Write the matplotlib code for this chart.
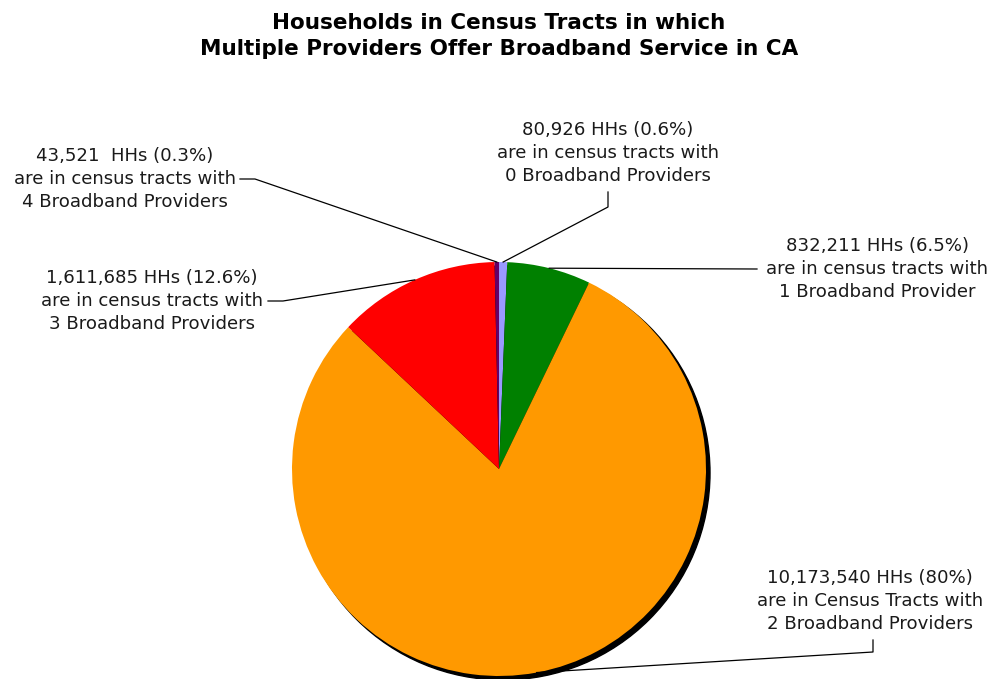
import numpy as np
import matplotlib
matplotlib.use("Agg")
import matplotlib.pyplot as plt
from matplotlib.patches import Circle

# ---- data ----
categories = ["0 Broadband Providers", "1 Broadband Provider", "2 Broadband Providers",
              "3 Broadband Providers", "4 Broadband Providers"]
households = [80926, 832211, 10173540, 1611685, 43521]
label_texts = [
    "80,926 HHs (0.6%)\nare in census tracts with\n0 Broadband Providers",
    "832,211 HHs (6.5%)\nare in census tracts with\n1 Broadband Provider",
    "10,173,540 HHs (80%)\nare in Census Tracts with\n2 Broadband Providers",
    "1,611,685 HHs (12.6%)\nare in census tracts with\n3 Broadband Providers",
    "43,521  HHs (0.3%)\nare in census tracts with\n4 Broadband Providers",
]
colors = ["#9999FF", "#008000", "#FF9900", "#FF0000", "#660066"]
title = "Households in Census Tracts in which\nMultiple Providers Offer Broadband Service in CA"

W, H = 994, 679
fig = plt.figure(figsize=(W / 100, H / 100), dpi=100)
ax = fig.add_axes([0, 0, 1, 1])


def Y(py):
    # convert pixel row (from top) to data y (from bottom)
    return H - py


cx, cy, r = 499, Y(469), 207
# shadow
ax.add_patch(Circle((cx + 4, cy - 4), r, color="black", zorder=1))
wedges, _ = ax.pie(households, colors=colors, startangle=90, counterclock=False,
                   center=(cx, cy), radius=r, frame=True,
                   wedgeprops=dict(linewidth=0))
for w in wedges:
    w.set_zorder(2)
ax.set_xlim(0, W)
ax.set_ylim(0, H)
ax.set_aspect("equal")
ax.axis("off")


def edge_point(w, frac=0.5):
    a = np.deg2rad(w.theta1 + (w.theta2 - w.theta1) * frac)
    return cx + r * np.cos(a), cy + r * np.sin(a)


fs = 13.1
label_pos = [(608, 153), (877, 269), (870, 601), (152, 301), (125, 179)]
for txt, (tx, ty) in zip(label_texts, label_pos):
    ax.text(tx, Y(ty), txt, ha="center", va="center", fontsize=fs,
            linespacing=1.33, color="#1a1a1a", zorder=5)

lw = 0.9
kw = dict(color="black", lw=lw, zorder=4)
# 0 providers: vertical from below text then diagonal
ex, ey = edge_point(wedges[0])
ax.plot([608, 608, ex], [Y(192), Y(207), ey], **kw)
# 1 provider: horizontal from left of text
ex, ey = edge_point(wedges[1])
ax.plot([757, ex], [Y(269), ey], **kw)
# 2 providers: vertical from below text then diagonal
ex, ey = edge_point(wedges[2])
ax.plot([873, 873, ex], [Y(640), Y(652), ey], **kw)
# 3 providers
ex, ey = edge_point(wedges[3])
ax.plot([268, 283, ex], [Y(301), Y(301), ey], **kw)
# 4 providers
ex, ey = edge_point(wedges[4], 0.5)
ax.plot([240, 255, ex], [Y(179), Y(179), ey], **kw)

ax.text(499, Y(36), title, ha="center", va="center", fontsize=15.5, fontweight="bold",
        linespacing=1.4, zorder=5)

fig.savefig("out.png", dpi=100)
